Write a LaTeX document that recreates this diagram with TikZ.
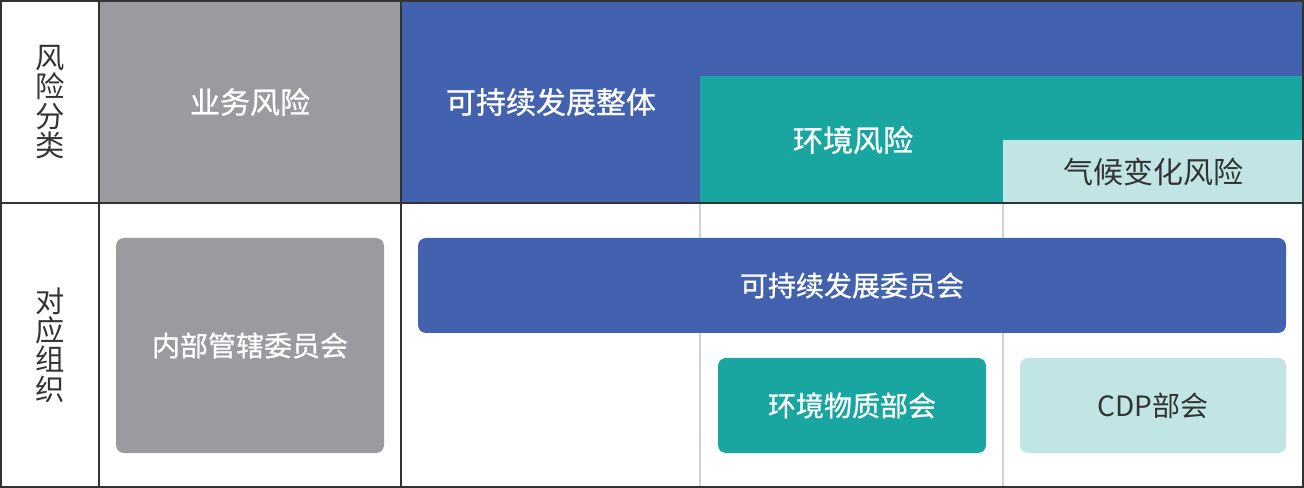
\documentclass[tikz,border=0pt]{standalone}
\usepackage{fontspec}
\newfontfamily\cjk{Noto Sans CJK SC}
\newfontfamily\cjkm{Noto Sans CJK SC}[FakeBold=0.8]
\definecolor{ink}{HTML}{333333}
\definecolor{riskgray}{HTML}{9A9B9F}
\definecolor{riskblue}{HTML}{4262AF}
\definecolor{riskteal}{HTML}{1AA6A0}
\definecolor{risklight}{HTML}{C1E5E4}
\definecolor{gridgray}{HTML}{D2D2D2}
\begin{document}
\begin{tikzpicture}[x=0.75pt,y=-0.75pt,
  txt/.style={font=\cjkm\fontsize{22.5}{22}\selectfont,text=white,inner sep=0pt},
  dark/.style={txt,font=\cjk\fontsize{22.5}{22}\selectfont,text=ink},
  vert/.style={dark,font=\cjk\fontsize{22}{22}\selectfont,align=center},
  small/.style={font=\cjkm\fontsize{21}{21}\selectfont},
  box/.style={shape=rectangle,rounded corners=6pt,inner sep=0pt,minimum width=201pt,minimum height=71.25pt}]
 \useasboundingbox (0,0) rectangle (1304,488);
 % top row fills
 \fill[riskgray] (99,0) rectangle (401,203);
 \fill[riskblue] (401,0) rectangle (1304,203);
 \fill[riskteal] (700,76) rectangle (1304,203);
 \fill[risklight] (1003,140) rectangle (1304,203);
 % light column lines
 \draw[gridgray,line width=1.2pt] (700,203) -- (700,488);
 \draw[gridgray,line width=1.2pt] (1003,203) -- (1003,488);
 % table frame
 \draw[ink,line width=1.5pt] (1,1) rectangle (1303,487);
 \draw[ink,line width=1.5pt] (99,0) -- (99,488);
 \draw[ink,line width=1.5pt] (401,0) -- (401,488);
 \draw[ink,line width=1.5pt] (0,203) -- (1304,203);
 % top labels
 \node (hd risk) at (50,102) [vert] {风\\险\\分\\类};
 \node (risk biz) at (250,102) [txt] {业务风险};
 \node (risk sus) at (551,102) [txt] {可持续发展整体};
 \node (risk env) at (853,140) [txt] {环境风险};
 \node (risk clim) at (1153,172) [dark] {气候变化风险};
 % bottom boxes
 \node (hd org) at (50,345) [vert] {对\\应\\组\\织};
 \node (org biz) at (250,345.5) [box,fill=riskgray,minimum height=161.25pt,txt,small] {内部管辖委员会};
 \node (org sus) at (852,285.5) [box,fill=riskblue,minimum width=651pt,txt,small] {可持续发展委员会};
 \node (org env) at (852,405.5) [box,fill=riskteal,txt,small] {环境物质部会};
 \node (org clim) at (1153,405.5) [box,fill=risklight,minimum width=199.5pt,dark,font=\cjk\fontsize{21}{21}\selectfont] {CDP部会};
\end{tikzpicture}
\end{document}
